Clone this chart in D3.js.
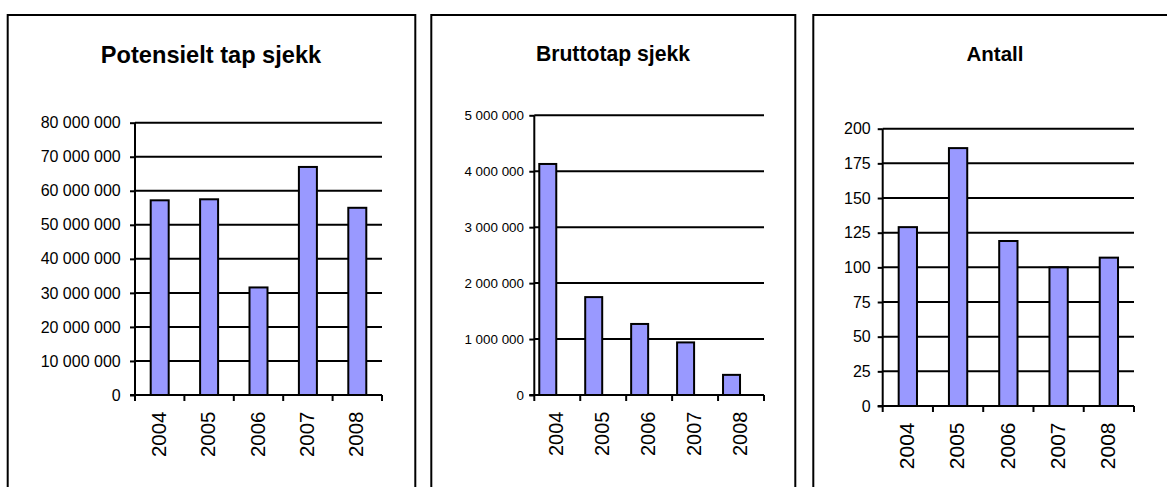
<!DOCTYPE html>
<html>
<head>
<meta charset="utf-8">
<script src="https://cdn.jsdelivr.net/npm/d3@7"></script>
<style>
  body { margin: 0; background: #fff; }
  text { font-family: Arial, "Liberation Sans", sans-serif; fill: #000; }
</style>
</head>
<body>
<div id="chart"></div>
<script>
// Data
var years = ["2004", "2005", "2006", "2007", "2008"];

var potensieltTitle = "Potensielt tap sjekk";
var potensieltValues = [57200000, 57500000, 31600000, 67000000, 55000000];
var potensieltTicks = [0, 10000000, 20000000, 30000000, 40000000, 50000000, 60000000, 70000000, 80000000];

var bruttoTitle = "Bruttotap sjekk";
var bruttoValues = [4130000, 1750000, 1270000, 940000, 360000];
var bruttoTicks = [0, 1000000, 2000000, 3000000, 4000000, 5000000];

var antallTitle = "Antall";
var antallValues = [129, 186, 119, 100, 107];
var antallTicks = [0, 25, 50, 75, 100, 125, 150, 175, 200];

// SVG
var width = 1167, height = 487;
var svg = d3.select("#chart").append("svg")
    .attr("width", width)
    .attr("height", height);

var fmt = function (v) {
    // thousands separated with a space
    return d3.format(",")(v).replace(/,/g, " ");
};

// panel layout (screen positions)
var panels = [
    {title: potensieltTitle, values: potensieltValues, ticks: potensieltTicks,
     frame: [7.7, 415.3], titleX: 211, titleY: 63, titleSize: 23.6,
     left: 135, right: 382, top: 122.7, bottom: 395,
     yFont: 16, yGap: 14.3, xFont: 20.5, barW: 18, barShift: 0},
    {title: bruttoTitle, values: bruttoValues, ticks: bruttoTicks,
     frame: [431.3, 795.3], titleX: 613, titleY: 61, titleSize: 21.2,
     left: 534.3, right: 764, top: 115.3, bottom: 395,
     yFont: 13.4, yGap: 10.3, xFont: 20, barW: 17, barShift: -9.5},
    {title: antallTitle, values: antallValues, ticks: antallTicks,
     frame: [813.3, 1180], titleX: 995, titleY: 61, titleSize: 20.5,
     left: 882.7, right: 1134, top: 128.7, bottom: 406,
     yFont: 16, yGap: 12, xFont: 21, barW: 18.3, barShift: 0}
];

panels.forEach(drawPanel);

function drawPanel(p) {
    var g = svg.append("g");

    // frame (bottom edge runs off the page)
    g.append("rect")
        .attr("x", p.frame[0])
        .attr("y", 15)
        .attr("width", p.frame[1] - p.frame[0])
        .attr("height", 500)
        .attr("fill", "none")
        .attr("stroke", "#000")
        .attr("stroke-width", 2);

    g.append("text")
        .attr("x", p.titleX)
        .attr("y", p.titleY)
        .attr("text-anchor", "middle")
        .style("font-size", p.titleSize + "px")
        .style("font-weight", "bold")
        .text(p.title);

    var x = d3.scaleBand()
        .domain(years)
        .range([p.left, p.right]);

    var y = d3.scaleLinear()
        .domain([0, d3.max(p.ticks)])
        .range([p.bottom, p.top]);

    // gridlines
    g.selectAll(".grid")
        .data(p.ticks.slice(1))
        .enter().append("line")
        .attr("x1", p.left)
        .attr("x2", p.right)
        .attr("y1", d => y(d))
        .attr("y2", d => y(d))
        .attr("stroke", "#000")
        .attr("stroke-width", 2);

    // bars
    g.selectAll(".bar")
        .data(p.values)
        .enter().append("rect")
        .attr("x", (d, i) => x(years[i]) + (x.bandwidth() - p.barW) / 2 + p.barShift)
        .attr("y", d => y(d))
        .attr("width", p.barW)
        .attr("height", d => y(0) - y(d))
        .attr("fill", "#9999ff")
        .attr("stroke", "#000")
        .attr("stroke-width", 2);

    // y axis
    var yAxis = d3.axisLeft(y)
        .tickValues(p.ticks)
        .tickSize(5)
        .tickPadding(p.yGap - 5)
        .tickFormat(fmt);
    var ya = g.append("g")
        .attr("transform", "translate(" + p.left + ",0)")
        .call(yAxis);
    ya.select(".domain").attr("d", "M0," + p.top + "V" + p.bottom)
        .attr("stroke-width", 2);
    ya.selectAll(".tick line").attr("stroke-width", 2);
    ya.selectAll(".tick text")
        .style("font-size", p.yFont + "px")
        .style("font-family", "Arial, 'Liberation Sans', sans-serif");

    // x axis
    var xTicks = years.map(d => x(d)).concat([p.right]);
    var xa = g.append("g");
    xa.append("line")
        .attr("x1", p.left - 5)
        .attr("x2", p.right)
        .attr("y1", p.bottom)
        .attr("y2", p.bottom)
        .attr("stroke", "#000")
        .attr("stroke-width", 2);
    xa.selectAll(".xtick")
        .data(xTicks)
        .enter().append("line")
        .attr("x1", d => d)
        .attr("x2", d => d)
        .attr("y1", p.bottom)
        .attr("y2", p.bottom + 6)
        .attr("stroke", "#000")
        .attr("stroke-width", 2);
    xa.selectAll(".xlabel")
        .data(years)
        .enter().append("text")
        .attr("transform", d => "translate(" + (x(d) + x.bandwidth() / 2 - 1) + "," + (p.bottom + 16.5) + ") rotate(-90)")
        .attr("dy", "0.35em")
        .attr("text-anchor", "end")
        .style("font-size", p.xFont + "px")
        .text(d => d);
}
</script>
</body>
</html>
